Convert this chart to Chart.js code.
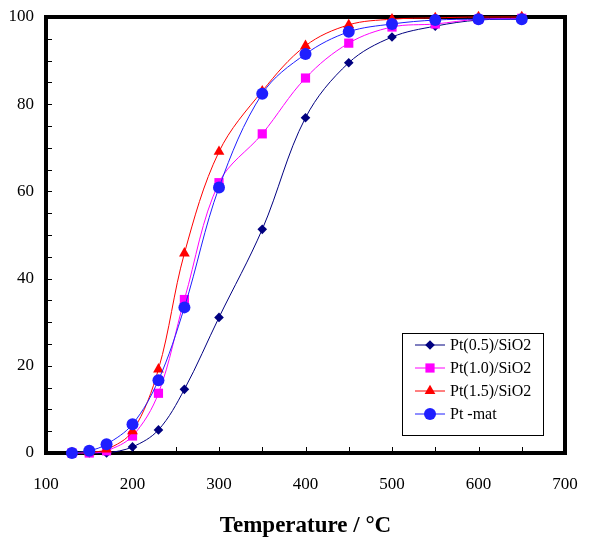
<!DOCTYPE html>
<html>
<head>
<meta charset="utf-8">
<title>Conversion vs temperature</title>
<script src="https://cdn.jsdelivr.net/npm/chart.js@4.4.0/dist/chart.umd.min.js"></script>
<style>
  html, body { margin: 0; padding: 0; background: #fff; }
  #wrap { width: 590px; height: 559px; }
</style>
</head>
<body>
<div id="wrap"><canvas id="chart" width="590" height="559"></canvas></div>
<script>
// --- data ---
const temperatures = [130, 150, 170, 200, 230, 260, 300, 350, 400, 450, 500, 550, 600, 650];
const pt05 = [0, 0, 0, 1.4, 5.3, 14.6, 31.1, 51.3, 76.9, 89.5, 95.4, 97.9, 99.3, 99.5];
const pt10 = [0, 0, 0.5, 3.9, 13.7, 35.2, 62.0, 73.2, 86.0, 94.0, 97.7, 98.4, 99.5, 99.7];
const pt15 = [0, 0.2, 0.8, 5.0, 19.2, 45.8, 69.1, 83.0, 93.4, 98.2, 99.5, 99.8, 100, 100];
const ptMat = [0, 0.5, 2.0, 6.6, 16.7, 33.4, 60.9, 82.4, 91.5, 96.6, 98.4, 99.3, 99.5, 99.5];
const seriesNames = ['Pt(0.5)/SiO2', 'Pt(1.0)/SiO2', 'Pt(1.5)/SiO2', 'Pt -mat'];
const xTickLabels = [100, 200, 300, 400, 500, 600, 700];
const yTickLabels = [0, 20, 40, 60, 80, 100];
const xAxisTitle = 'Temperature / °C';

const serifFont = "'Liberation Serif', 'DejaVu Serif', serif";

document.addEventListener('DOMContentLoaded', () => {
    const canvas = document.getElementById('chart');

    function toPoints(values) {
        return temperatures.map((t, i) => ({ x: t, y: values[i] }));
    }

    function makeDataset(label, values, color, style, radius, order) {
        return {
            label: label,
            data: toPoints(values),
            borderColor: color,
            backgroundColor: color,
            borderWidth: 1,
            pointStyle: style,
            pointRadius: radius,
            pointBorderWidth: 0,
            pointBackgroundColor: color,
            tension: 0.35,
            clip: 10,
            order: order
        };
    }

    const datasets = [
        makeDataset(seriesNames[0], pt05, '#000080', 'rectRot', 4.8, 4),
        makeDataset(seriesNames[1], pt10, '#ff00ff', 'rect', 6.5, 3),
        makeDataset(seriesNames[2], pt15, '#ff0000', 'triangle', 6.2, 2),
        makeDataset(seriesNames[3], ptMat, '#1f1fff', 'circle', 6, 1)
    ];

    // frame round the plot + short inward tick marks
    const framePlugin = {
        id: 'frame',
        beforeDatasetsDraw(chart) {
            const { ctx, chartArea } = chart;
            const xs = chart.scales.x;
            const ys = chart.scales.y;
            ctx.save();
            ctx.strokeStyle = '#000';
            ctx.lineWidth = 1;
            ctx.beginPath();
            xs.ticks.forEach(t => {
                const px = Math.round(xs.getPixelForValue(t.value)) + 0.5;
                ctx.moveTo(px, chartArea.bottom);
                ctx.lineTo(px, chartArea.bottom - 6);
            });
            ys.ticks.forEach(t => {
                const py = Math.round(ys.getPixelForValue(t.value)) + 0.5;
                ctx.moveTo(chartArea.left, py);
                ctx.lineTo(chartArea.left + 6, py);
            });
            ctx.stroke();
            ctx.lineWidth = 4;
            ctx.strokeRect(chartArea.left, chartArea.top,
                chartArea.right - chartArea.left, chartArea.bottom - chartArea.top);
            ctx.restore();
        }
    };

    // boxed legend inside the plot, lower right
    const legendPlugin = {
        id: 'boxLegend',
        afterDraw(chart) {
            const { ctx, chartArea } = chart;
            const w = 141, h = 102;
            const bx = chartArea.right - 22 - w;
            const by = chartArea.bottom - 18 - h;
            ctx.save();
            ctx.fillStyle = '#fff';
            ctx.fillRect(bx, by, w, h);
            ctx.strokeStyle = '#000';
            ctx.lineWidth = 1;
            ctx.strokeRect(bx + 0.5, by + 0.5, w, h);
            ctx.font = '16px ' + serifFont;
            ctx.textBaseline = 'middle';
            datasets.forEach((ds, i) => {
                const ry = by + 12 + i * 23;
                ctx.strokeStyle = ds.borderColor;
                ctx.fillStyle = ds.borderColor;
                ctx.beginPath();
                ctx.moveTo(bx + 13, ry);
                ctx.lineTo(bx + 43, ry);
                ctx.stroke();
                Chart.helpers.drawPoint(ctx, {
                    pointStyle: ds.pointStyle,
                    radius: ds.pointRadius,
                    rotation: 0,
                    borderWidth: 0
                }, bx + 28, ry);
                ctx.fillStyle = '#000';
                ctx.fillText(ds.label, bx + 48, ry + 1);
            });
            ctx.restore();
        }
    };

    new Chart(canvas, {
        type: 'line',
        data: { datasets: datasets },
        options: {
            responsive: false,
            animation: false,
            devicePixelRatio: 1,
            layout: { padding: { left: 0, top: 17, right: 25, bottom: 0 } },
            plugins: {
                legend: { display: false },
                tooltip: { enabled: false }
            },
            scales: {
                x: {
                    type: 'linear',
                    min: xTickLabels[0],
                    max: xTickLabels[xTickLabels.length - 1],
                    grid: { display: false, drawTicks: false },
                    border: { display: false },
                    ticks: {
                        stepSize: 50,
                        autoSkip: false,
                        maxRotation: 0,
                        padding: 21,
                        color: '#000',
                        font: { family: serifFont, size: 17 },
                        callback: v => (xTickLabels.includes(v) ? String(v) : '')
                    },
                    title: {
                        display: true,
                        text: xAxisTitle,
                        color: '#000',
                        font: { family: serifFont, size: 23, weight: 'bold' },
                        padding: { top: 0, bottom: 19 }
                    },
                    afterFit: scale => {
                        scale.height = 106;
                        scale.paddingLeft = 0;
                        scale.paddingRight = 0;
                    }
                },
                y: {
                    min: yTickLabels[0],
                    max: yTickLabels[yTickLabels.length - 1],
                    grid: { display: false, drawTicks: false },
                    border: { display: false },
                    ticks: {
                        stepSize: 5,
                        autoSkip: false,
                        padding: 12,
                        color: '#000',
                        font: { family: serifFont, size: 17 },
                        callback: v => (yTickLabels.includes(v) ? String(v) : '')
                    },
                    afterFit: scale => {
                        scale.width = 46;
                        scale.paddingTop = 0;
                        scale.paddingBottom = 0;
                    }
                }
            }
        },
        plugins: [framePlugin, legendPlugin]
    });
});
</script>
</body>
</html>
